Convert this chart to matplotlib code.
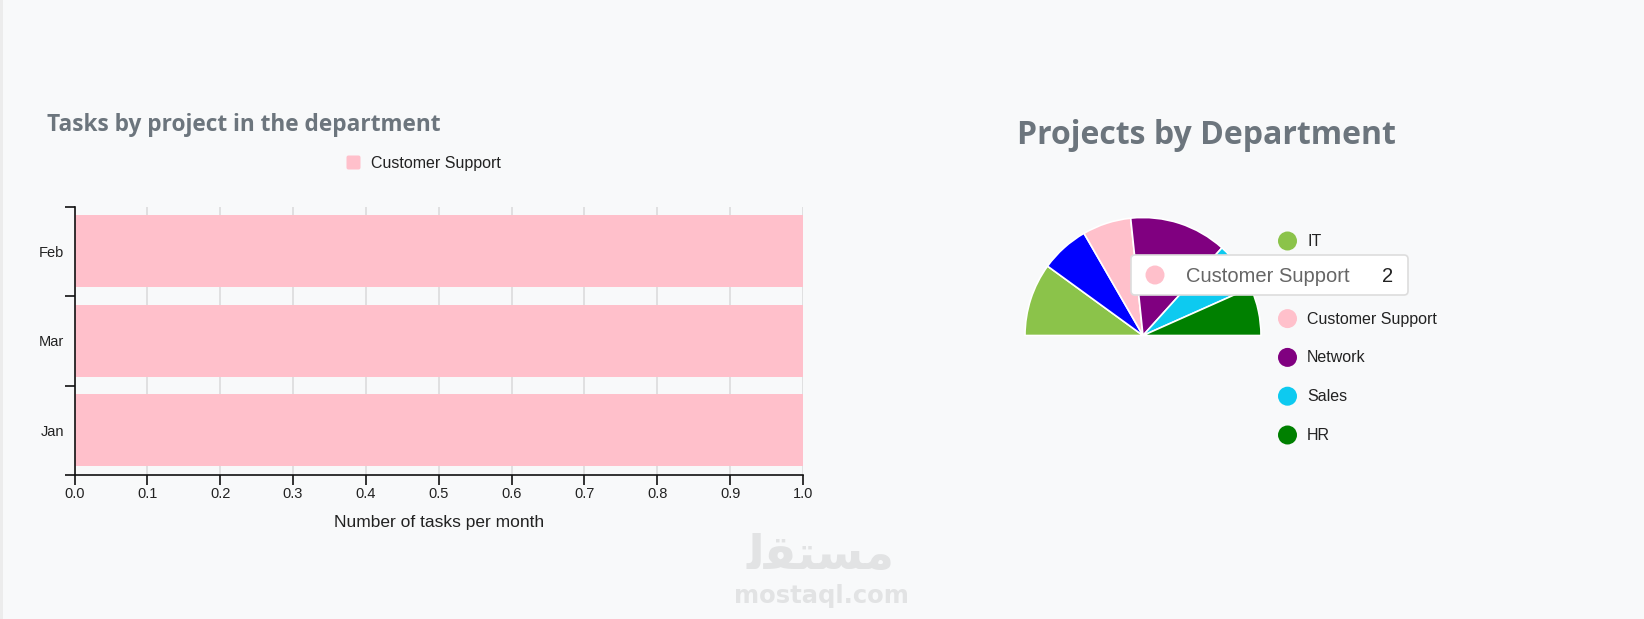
import numpy as np
import matplotlib
matplotlib.use("Agg")
import matplotlib.pyplot as plt
from matplotlib.patches import FancyBboxPatch, Circle, Rectangle
from matplotlib.ticker import FixedLocator, NullFormatter, FixedFormatter

# ---- data ----
months = ["Feb", "Mar", "Jan"]
tasks = [1, 1, 1]
bar_series = "Customer Support"

departments = ["IT", "Development", "Customer Support", "Network", "Sales", "HR"]
projects = [3, 2, 2, 4, 2, 2]
dept_colors = ["#8bc34a", "#0000ff", "#ffc0cb", "#800080", "#0dcaf0", "#008000"]

tooltip_idx = 2

BG = "#f8f9fa"
W, H = 1644, 619

fig = plt.figure(figsize=(W / 100, H / 100), dpi=100, facecolor=BG)
plt.rcParams["font.family"] = ["Liberation Sans", "DejaVu Sans"]


def px_axes(left, top, right, bottom, **kw):
    return fig.add_axes([left / W, 1 - bottom / H, (right - left) / W, (bottom - top) / H], **kw)


# ---- horizontal bar chart ----
ax = px_axes(74.5, 206.5, 803, 475)
ax.set_facecolor("none")
ypos = np.arange(len(months))
ax.barh(ypos, tasks, height=0.8, color="pink", zorder=2)
ax.set_xlim(0, 1)
ax.set_ylim(len(months) - 0.5, -0.5)
ax.set_xticks(np.linspace(0, 1, 11))
ax.set_xticklabels([f"{v:.1f}" for v in np.linspace(0, 1, 11)], fontsize=10.5, color="#222")
ax.xaxis.grid(True, color="#dcdcdc", linewidth=1.2, zorder=0)
ax.yaxis.set_major_locator(FixedLocator(np.arange(len(months) + 1) - 0.5))
ax.yaxis.set_major_formatter(NullFormatter())
ax.yaxis.set_minor_locator(FixedLocator(ypos))
ax.yaxis.set_minor_formatter(FixedFormatter(months))
ax.tick_params(axis="y", which="minor", length=0, labelsize=10.5, labelcolor="#222", pad=7.5)
ax.tick_params(axis="y", which="major", length=7, width=1.2, color="#111")
ax.tick_params(axis="x", length=7, width=1.2, color="#111", pad=1.5)
for s in ["top", "right"]:
    ax.spines[s].set_visible(False)
for s in ["left", "bottom"]:
    ax.spines[s].set_color("#111")
    ax.spines[s].set_linewidth(1.2)
ax.set_xlabel("Number of tasks per month", fontsize=12.5, color="#222", labelpad=10)

# ---- half pie ----
r_px = 118
cx, cy = 1143, 335.5
half = 130
pax = px_axes(cx - half, cy - half, cx + half, cy + half)
pax.set_facecolor("none")
wedges, _ = pax.pie(projects + [sum(projects)], colors=dept_colors + ["none"],
                    startangle=180, counterclock=False, radius=1,
                    wedgeprops=dict(edgecolor="white", linewidth=1.2))
wedges[-1].set_edgecolor("none")
lim = half / r_px
pax.set_xlim(-lim, lim)
pax.set_ylim(-lim, lim)
pax.set_aspect("equal")
pax.axis("off")

# ---- overlay in pixel coordinates ----
ov = fig.add_axes([0, 0, 1, 1], zorder=10)
ov.set_xlim(0, W)
ov.set_ylim(H, 0)
ov.axis("off")
ov.patch.set_visible(False)

ov.add_patch(Rectangle((0, 0), 3, H, color="#ececec", lw=0))

ov.text(47, 125, "Tasks by project in the department", fontsize=16.3, fontweight="bold",
        color="#6c757d", family=["Open Sans", "DejaVu Sans"], va="center", ha="left")
ov.text(1206, 136, "Projects by Department", fontsize=23, fontweight="bold",
        color="#6c757d", family=["Open Sans", "DejaVu Sans"], va="center", ha="center")

# bar legend
ov.add_patch(FancyBboxPatch((346.5, 155.5), 14, 14, boxstyle="round,pad=0,rounding_size=2",
                            color="pink", lw=0))
ov.text(371, 163.5, bar_series, fontsize=11.5, color="#222", va="center", ha="left")

# pie legend
ly0, lstep = 241, 38.8
for i, (name, col) in enumerate(zip(departments, dept_colors)):
    y = ly0 + i * lstep
    ov.add_patch(Circle((1287.5, y), 9.5, color=col, lw=0))
    ov.text(1307, y + 0.5, name, fontsize=11.5, color="#222", va="center", ha="left")

# tooltip
ov.add_patch(FancyBboxPatch((1131, 255), 277, 40, boxstyle="round,pad=0,rounding_size=4",
                            facecolor="white", edgecolor="#dddddd", lw=1.2, zorder=5))
ov.add_patch(Circle((1155, 275), 9.5, color=dept_colors[tooltip_idx], lw=0, zorder=6))
ov.text(1186, 276, departments[tooltip_idx], fontsize=14.5, color="#666", va="center",
        ha="left", zorder=6)
ov.text(1393, 276, str(projects[tooltip_idx]), fontsize=14.5, color="#222", va="center",
        ha="right", zorder=6)

# watermark
ov.text(821, 557, "\ufee3\ufeb4\ufe98\ufed8\ufedf"[::-1], fontsize=34, fontweight="bold",
        color="#e2e3e4", va="center", ha="center", family=["DejaVu Sans"])
ov.text(821, 596, "mostaql.com", fontsize=17.5, fontweight="bold", color="#e2e3e4",
        va="center", ha="center", family=["DejaVu Sans"])

fig.savefig("out.png", dpi=100, facecolor=BG)
